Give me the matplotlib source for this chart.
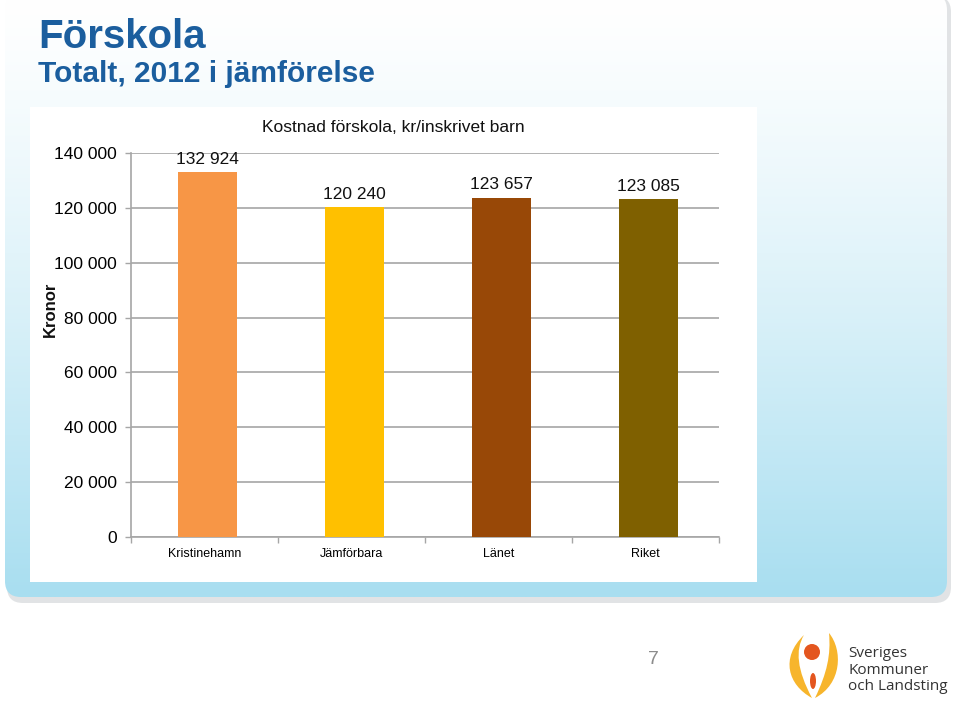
import numpy as np
import matplotlib
matplotlib.use("Agg")
import matplotlib.pyplot as plt
from matplotlib.patches import FancyBboxPatch, Rectangle, Circle, PathPatch, Ellipse
from matplotlib.path import Path
from matplotlib.ticker import FuncFormatter, FixedLocator

plt.rcParams['font.family'] = ['Liberation Sans', 'DejaVu Sans']

# data
categories = ['Kristinehamn', 'Jämförbara', 'Länet', 'Riket']
values = [132924, 120240, 123657, 123085]
y_ticks = [0, 20000, 40000, 60000, 80000, 100000, 120000, 140000]

bar_colors = ['#F79646', '#FFC000', '#984807', '#7F6000']
title_blue = '#1B5E9E'


def kr(v, pos=None):
    return '{:,}'.format(int(v)).replace(',', ' ')


fig = plt.figure(figsize=(9.6, 7.06), dpi=100)
fig.patch.set_facecolor('white')

# background layer in pixel coordinates
bg = fig.add_axes([0, 0, 1, 1], zorder=0)
bg.set_xlim(0, 960)
bg.set_ylim(706, 0)
bg.axis('off')

shadow = FancyBboxPatch((7, -4), 944, 607, boxstyle="round,pad=0,rounding_size=16",
                        fc='#aab0b5', ec='none', alpha=0.35)
bg.add_patch(shadow)
panel = FancyBboxPatch((5, -6), 942, 603, boxstyle="round,pad=0,rounding_size=16",
                       fc='none', ec='none')
bg.add_patch(panel)
top = np.array([255, 255, 255]) / 255
bottom = np.array([168, 222, 240]) / 255
t = np.linspace(0, 1, 256) ** 1.3
grad = top[None, :] * (1 - t[:, None]) + bottom[None, :] * t[:, None]
grad = np.repeat(grad[:, None, :], 2, axis=1)
im = bg.imshow(grad, extent=(5, 947, 597, -6), origin='upper', aspect='auto', zorder=1)
im.set_clip_path(panel)

bg.add_patch(Rectangle((30, 107), 727, 475, fc='white', ec='none', zorder=2))

bg.text(38, 48, 'Förskola', fontsize=29, fontweight='bold', color=title_blue,
        va='baseline', ha='left', zorder=3)
bg.text(38, 82, 'Totalt, 2012 i jämförelse', fontsize=21.5, fontweight='bold',
        color=title_blue, va='baseline', ha='left', zorder=3)

bg.text(393, 127, 'Kostnad förskola, kr/inskrivet barn', fontsize=12.5, ha='center',
        va='center', color='#111111', zorder=3)
bg.text(50, 309, 'Kronor', fontsize=12, fontweight='bold', rotation=90,
        ha='center', va='center', color='#111111', zorder=3)

bg.text(653, 660, '7', fontsize=14, color='#8c8c8c', ha='center', va='center')

# logo
left_flame = Path([(812, 698), (788, 685), (780, 658), (804, 635),
                   (795, 650), (797, 670), (812, 698), (812, 698)],
                  [Path.MOVETO, Path.CURVE4, Path.CURVE4, Path.CURVE4,
                   Path.CURVE4, Path.CURVE4, Path.CURVE4, Path.CLOSEPOLY])
right_flame = Path([(815, 698), (842, 684), (843, 650), (829, 633),
                    (831, 655), (827, 673), (815, 698), (815, 698)],
                   [Path.MOVETO, Path.CURVE4, Path.CURVE4, Path.CURVE4,
                    Path.CURVE4, Path.CURVE4, Path.CURVE4, Path.CLOSEPOLY])
bg.add_patch(PathPatch(left_flame, fc='#F7B52C', ec='none'))
bg.add_patch(PathPatch(right_flame, fc='#F7B52C', ec='none'))
bg.add_patch(Circle((812, 652), 8, fc='#E4561F', ec='none'))
bg.add_patch(Ellipse((813, 681), 6, 16, fc='#E4561F', ec='none'))
bg.text(848, 670, 'Sveriges\nKommuner\noch Landsting', fontsize=11,
        family=['Open Sans', 'DejaVu Sans'], color='#333333', ha='left', va='center',
        linespacing=1.15)

# chart
ax = fig.add_axes([131 / 960, 169 / 706, 588 / 960, 384 / 706], zorder=2)
ax.patch.set_alpha(0)
x = np.arange(len(categories))
ax.bar(x + 0.02, values, width=0.4, color=bar_colors, zorder=3)
for xi, v in zip(x, values):
    ax.annotate(kr(v), (xi + 0.02, v), xytext=(0, 4), textcoords='offset points',
                ha='center', va='bottom', fontsize=12.5, color='#111111')

ax.set_xlim(-0.5, len(categories) - 0.5)
ax.set_ylim(0, 140000)
ax.set_yticks(y_ticks)
ax.yaxis.set_major_formatter(FuncFormatter(kr))
ax.yaxis.grid(True, color='#a6a6a6', linewidth=1.2, zorder=1)
ax.set_axisbelow(True)

ax.xaxis.set_major_locator(FixedLocator(np.arange(-0.5, len(categories), 1.0)))
ax.xaxis.set_minor_locator(FixedLocator(x))
ax.set_xticklabels([], minor=False)
ax.set_xticklabels(categories, minor=True)
ax.tick_params(axis='x', which='major', length=4, color='#a6a6a6', width=1)
ax.tick_params(axis='x', which='minor', length=0, pad=8, labelsize=9)
ax.tick_params(axis='y', length=4, color='#a6a6a6', width=1, pad=6, labelsize=12.5)

for s in ['top', 'right']:
    ax.spines[s].set_visible(False)
for s in ['left', 'bottom']:
    ax.spines[s].set_color('#a6a6a6')
    ax.spines[s].set_linewidth(1.2)

fig.savefig('out.png', dpi=100)
